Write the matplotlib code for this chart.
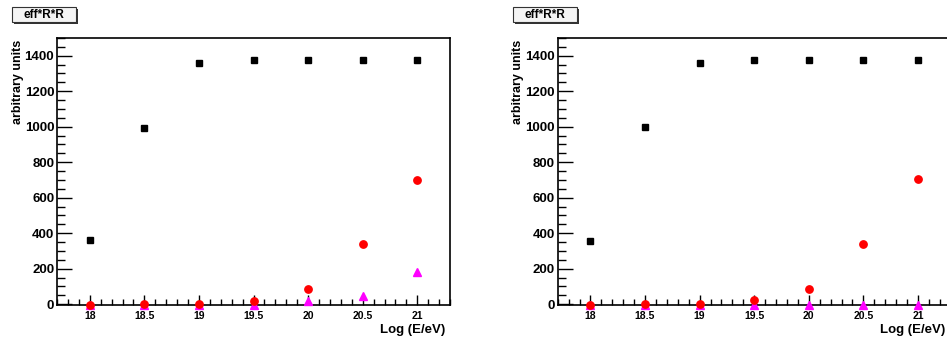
#!/usr/bin/env python3
"""
Two panels of eff*R*R vs Log(E/eV), ROOT-like style.
"""

import matplotlib
matplotlib.use("Agg")
import matplotlib.pyplot as plt
from matplotlib.patches import Rectangle
from matplotlib.ticker import MultipleLocator

plt.rcParams['font.family'] = ['Liberation Sans', 'DejaVu Sans']

log_e = [18.0, 18.5, 19.0, 19.5, 20.0, 20.5, 21.0]

# left panel
left_black = [361, 992, 1359, 1374, 1374, 1374, 1374]
left_red = [-3, -1, 2, 19, 87, 337, 700]
left_magenta = [-3, -3, -3, -3, 15, 45, 179]

# right panel
right_black = [358, 997, 1359, 1374, 1374, 1374, 1374]
right_red = [-3, -1, 3, 21, 88, 339, 704]
right_magenta = [-3, -3, -3, -3, -3, -3, -3]

panels = [
    (left_black, left_red, left_magenta),
    (right_black, right_red, right_magenta),
]

title = "eff*R*R"
y_label = "arbitrary units"
x_label = "Log (E/eV)"


def draw_panel(ax, black, red, magenta):
    ax.plot(log_e, black, linestyle='none', marker='s', markersize=5.0,
            color='black', clip_on=False, zorder=3)
    ax.plot(log_e, magenta, linestyle='none', marker='^', markersize=5.2,
            color='#ff00ff', clip_on=False, zorder=3)
    ax.plot(log_e, red, linestyle='none', marker='o', markersize=5.3,
            color='#ff0000', clip_on=False, zorder=4)

    ax.set_xlim(17.7, 21.3)
    ax.set_ylim(-5, 1500)
    ax.xaxis.set_major_locator(MultipleLocator(0.5))
    ax.xaxis.set_minor_locator(MultipleLocator(0.1))
    ax.yaxis.set_major_locator(MultipleLocator(200))
    ax.yaxis.set_minor_locator(MultipleLocator(50))
    ax.set_xticks(log_e)
    ax.set_xticklabels(['18', '18.5', '19', '19.5', '20', '20.5', '21'])

    ax.tick_params(axis='both', which='both', direction='in', width=1.0,
                   top=False, right=False)
    ax.tick_params(axis='x', which='major', length=7, labelsize=7.5, pad=4)
    ax.tick_params(axis='x', which='minor', length=4)
    ax.tick_params(axis='y', which='major', length=11, labelsize=9.5, pad=2)
    ax.tick_params(axis='y', which='minor', length=6)
    for lab in ax.get_xticklabels() + ax.get_yticklabels():
        lab.set_fontweight('bold')
    for sp in ax.spines.values():
        sp.set_linewidth(1.2)

    ax.set_ylabel(y_label, fontsize=9, fontweight='bold', loc='top')
    ax.yaxis.set_label_coords(-0.085, 0.995)
    ax.set_xlabel(x_label, fontsize=9.5, fontweight='bold', loc='right')
    ax.xaxis.set_label_coords(0.987, -0.07)


fig = plt.figure(figsize=(9.47, 3.39), dpi=100)
W, H = 947.0, 339.0

axes_left = [57, 557.7]
for (black, red, magenta), x0 in zip(panels, axes_left):
    ax = fig.add_axes([x0 / W, 1 - 305 / H, 393 / W, 267 / H])
    draw_panel(ax, black, red, magenta)

    # title box with shadow
    bx = x0 - 45
    shadow = Rectangle(((bx + 2) / W, 1 - 24 / H), 64 / W, 15 / H,
                       transform=fig.transFigure, facecolor='#333333',
                       edgecolor='none', zorder=5)
    box = Rectangle((bx / W, 1 - 22 / H), 64 / W, 15 / H,
                    transform=fig.transFigure, facecolor='#f4f4f4',
                    edgecolor='#333333', linewidth=0.8, zorder=6)
    fig.patches.extend([shadow, box])
    fig.text((bx + 32) / W, 1 - 14.5 / H, title, ha='center', va='center',
             fontsize=8.5, fontweight='bold', zorder=7)

fig.savefig("out.png", dpi=100)
